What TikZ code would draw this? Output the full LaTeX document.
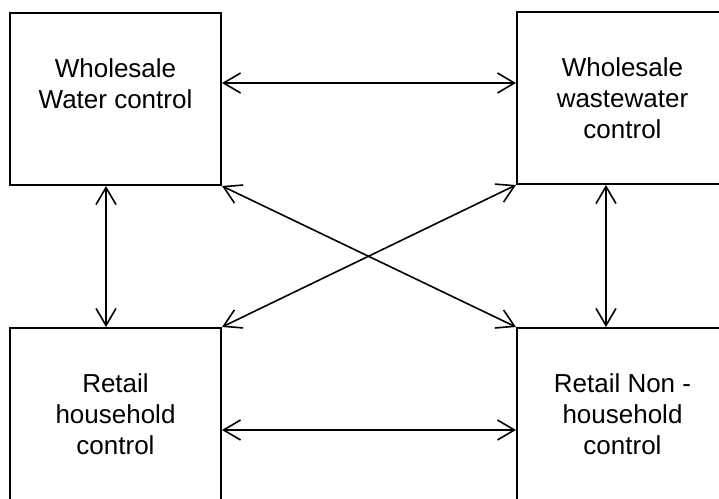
\documentclass[tikz,border=0pt]{standalone}
\usepackage{fontspec}
\setmainfont{Liberation Sans}
\usetikzlibrary{arrows.meta}

\begin{document}
\begin{tikzpicture}[x=0.5pt, y=-0.5pt,
    ctrlbox/.style={draw, line width=1pt, minimum width=105.5pt, minimum height=86pt,
        align=center, inner sep=0pt, font=\fontsize{13}{15.6}\selectfont},
    link/.style={line width=0.8pt, {Straight Barb[length=8.5pt,width=10pt]}-{Straight Barb[length=8.5pt,width=10pt]}}]
\clip (0,0) rectangle (719,499);

\node[ctrlbox] (wwater) at (115.5,99) {Wholesale\\Water control\\\mbox{}};
\node[ctrlbox] (wwaste) at (622.5,98) {Wholesale\\wastewater\\control};
\node[ctrlbox] (rhouse) at (115.5,414) {Retail\\household\\control};
\node[ctrlbox] (rnon) at (622.5,414) {Retail Non -\\household\\control};

\draw[link] ([yshift=8pt]wwater.east) -- ([yshift=7.5pt]wwaste.west);
\draw[link] ([yshift=-8pt]rhouse.east) -- ([yshift=-8pt]rnon.west);
\draw[link] ([xshift=-4.75pt]wwater.south) -- ([xshift=-4.75pt]rhouse.north);
\draw[link] ([xshift=-8.25pt]wwaste.south) -- ([xshift=-8.25pt]rnon.north);
\draw[link] (wwater.south east) -- (rnon.north west);
\draw[link] (rhouse.north east) -- (wwaste.south west);
\end{tikzpicture}
\end{document}
